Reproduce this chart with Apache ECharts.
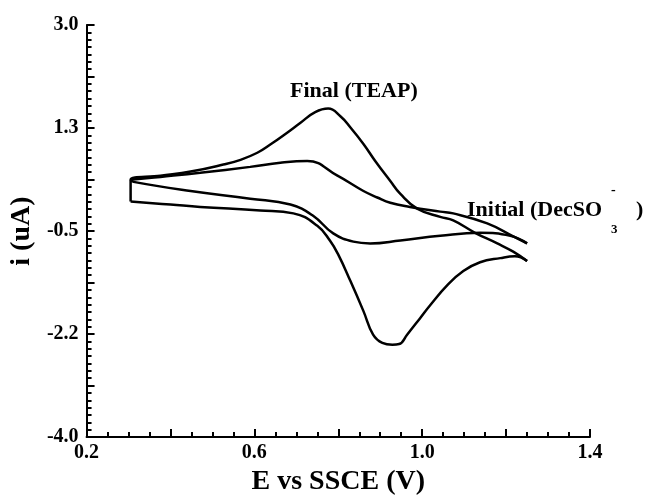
<!DOCTYPE html>
<html>
<head>
<meta charset="utf-8">
<script src="https://cdn.jsdelivr.net/npm/echarts@6/dist/echarts.min.js"></script>
<style>
html, body { margin: 0; padding: 0; background: #fff; }
#cv { width: 651px; height: 501px; }
</style>
</head>
<body>
<div id="cv"></div>
<script>
// potential (V vs SSCE), current (uA)
var finalForward = [
    [0.305, 0.00], [0.40, -0.05], [0.471, -0.09], [0.614, -0.15], [0.693, -0.20],
    [0.75, -0.41], [0.78, -0.66], [0.80, -0.90], [0.829, -1.35], [0.86, -1.86],
    [0.883, -2.26], [0.905, -2.40], [0.929, -2.43], [0.945, -2.42], [0.964, -2.26],
    [0.995, -1.98], [1.019, -1.76], [1.06, -1.42], [1.098, -1.18], [1.138, -1.03],
    [1.186, -0.96], [1.221, -0.93], [1.25, -1.01]
];
var finalReturn = [
    [1.25, -1.01], [1.217, -0.85], [1.179, -0.71], [1.126, -0.53], [1.074, -0.32],
    [1.043, -0.26], [0.988, -0.12], [0.948, 0.13], [0.924, 0.35], [0.888, 0.69],
    [0.86, 0.98], [0.829, 1.26], [0.805, 1.45], [0.776, 1.58], [0.745, 1.52],
    [0.71, 1.34], [0.674, 1.15], [0.638, 0.97], [0.607, 0.83], [0.567, 0.71],
    [0.526, 0.63], [0.448, 0.51], [0.376, 0.44], [0.305, 0.37], [0.305, 0.00]
];
var initialForward = [
    [0.305, 0.37], [0.312, 0.335], [0.448, 0.18], [0.59, 0.05], [0.686, -0.05],
    [0.74, -0.24], [0.788, -0.54], [0.836, -0.68], [0.876, -0.71], [0.948, -0.66],
    [1.043, -0.58], [1.138, -0.53], [1.21, -0.58], [1.25, -0.71]
];
var initialReturn = [
    [1.25, -0.71], [1.217, -0.59], [1.155, -0.37], [1.074, -0.20], [1.043, -0.17],
    [0.971, -0.09], [0.924, -0.02], [0.893, 0.07], [0.86, 0.18], [0.798, 0.44],
    [0.726, 0.69], [0.662, 0.66], [0.59, 0.59], [0.471, 0.49], [0.376, 0.42],
    [0.305, 0.37]
];

var xTickValues = [0.2, 0.6, 1.0, 1.4];
var xTickLabels = ['0.2', '0.6', '1.0', '1.4'];
var yTickValues = [-4, -2.25, -0.5, 1.25, 3];
var yTickLabels = ['-4.0', '-2.2', '-0.5', '1.3', '3.0'];

var serif = '"Liberation Serif", "DejaVu Serif", serif';

var myChart = echarts.init(document.getElementById('cv'));

function pickLabel(values, labels) {
    return function (v) {
        for (var k = 0; k < values.length; k++) {
            if (Math.abs(values[k] - v) < 1e-6) return labels[k];
        }
        return '';
    };
}

function curve(name, data) {
    return {
        name: name,
        type: 'line',
        data: data,
        smooth: 0.45,
        showSymbol: false,
        symbol: 'none',
        lineStyle: { color: '#000', width: 2.5 },
        z: 3
    };
}

var option = {
    animation: false,
    backgroundColor: '#fff',
    grid: { left: 86, right: 61, top: 25, bottom: 61 },
    xAxis: {
        type: 'value',
        position: 'bottom',
        min: 0.2,
        max: 1.4,
        interval: 0.2,
        name: 'E vs SSCE (V)',
        nameLocation: 'middle',
        nameGap: 19,
        nameTextStyle: { fontFamily: serif, fontSize: 28, fontWeight: 'bold', color: '#000' },
        axisLine: { show: true, onZero: false, lineStyle: { color: '#000', width: 2 } },
        axisTick: { show: true, inside: true, length: 8, lineStyle: { color: '#000', width: 2 } },
        minorTick: { show: true, splitNumber: 4, length: 5, lineStyle: { color: '#000', width: 2 } },
        splitLine: { show: false },
        minorSplitLine: { show: false },
        axisLabel: {
            margin: 6,
            fontFamily: serif,
            fontSize: 20,
            fontWeight: 'bold',
            color: '#000',
            formatter: pickLabel(xTickValues, xTickLabels)
        }
    },
    yAxis: {
        type: 'value',
        position: 'left',
        min: -4,
        max: 3,
        interval: 0.875,
        name: 'i (uA)',
        nameLocation: 'middle',
        nameGap: 45,
        nameTextStyle: { fontFamily: serif, fontSize: 28, fontWeight: 'bold', color: '#000' },
        axisLine: { show: true, onZero: false, lineStyle: { color: '#000', width: 2 } },
        axisTick: { show: true, inside: true, length: 8, lineStyle: { color: '#000', width: 2 } },
        minorTick: { show: true, splitNumber: 7, length: 5, lineStyle: { color: '#000', width: 2 } },
        splitLine: { show: false },
        minorSplitLine: { show: false },
        axisLabel: {
            margin: 8,
            fontFamily: serif,
            fontSize: 20,
            fontWeight: 'bold',
            color: '#000',
            formatter: pickLabel(yTickValues, yTickLabels)
        }
    },
    graphic: [
        {
            type: 'text', left: 290, top: 80,
            style: { text: 'Final (TEAP)', font: 'bold 22px ' + serif, fill: '#000' }
        },
        {
            type: 'text', left: 467, top: 199,
            style: { text: 'Initial (DecSO', font: 'bold 22px ' + serif, fill: '#000' }
        },
        {
            type: 'text', left: 611, top: 183,
            style: { text: '-', font: 'bold 14px ' + serif, fill: '#000' }
        },
        {
            type: 'text', left: 611, top: 223,
            style: { text: '3', font: 'bold 13px ' + serif, fill: '#000' }
        },
        {
            type: 'text', left: 636, top: 199,
            style: { text: ')', font: 'bold 22px ' + serif, fill: '#000' }
        }
    ],
    series: [
        curve('Final (TEAP)', finalForward),
        curve('Final (TEAP)', finalReturn),
        curve('Initial (DecSO3-)', initialForward),
        curve('Initial (DecSO3-)', initialReturn)
    ]
};
myChart.setOption(option);
</script>
</body>
</html>
